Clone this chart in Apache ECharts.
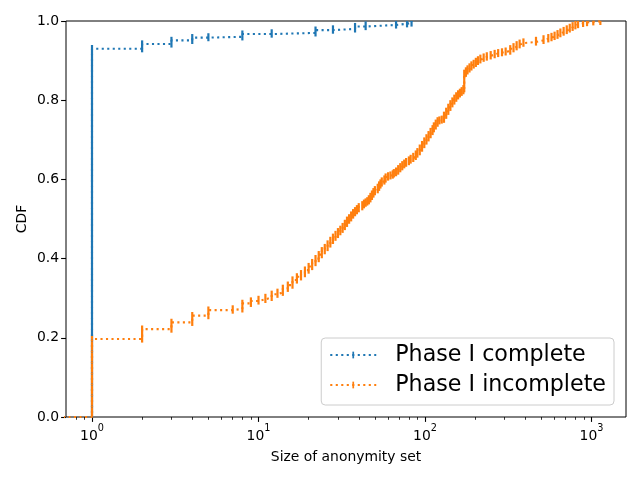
<!DOCTYPE html>
<html>
<head>
<meta charset="utf-8">
<script src="https://cdn.jsdelivr.net/npm/echarts@6/dist/echarts.min.js"></script>
<style>
  html, body { margin: 0; padding: 0; background: #fff; }
  #main { width: 640px; height: 480px; }
</style>
</head>
<body>
<div id="main"></div>
<script>
// CDF of anonymity set size
// (0.1 stands in for the size-0 start point, which falls off the left edge of the log axis)
const completeSizes = [0.1, 1, 2, 3, 4, 5, 8, 12, 22, 28, 38, 44, 67, 78, 83];
const completeCdf = [0, 0.930, 0.942, 0.951, 0.958, 0.960, 0.967, 0.970, 0.977, 0.980, 0.986, 0.990, 0.993, 0.995, 1.0];

const incompleteSizes = [0.1, 1, 2, 3, 4, 5, 7, 8, 9, 10,
  11, 12, 13, 14, 15, 16, 17, 18, 19, 20, 21, 22,
  23, 24, 25, 26, 27, 28, 29, 30, 31, 32, 33, 34, 35, 36, 37, 38, 39, 40,
  42, 43, 44, 45, 46, 47, 48, 49, 50,
  52, 53, 54, 55, 57, 58, 60, 62, 64, 65,
  67, 69, 71, 73, 75, 77, 80, 82, 85, 88,
  90, 93, 96, 99, 102, 105, 108, 111, 113, 116,
  119, 122, 126, 130, 134, 138, 142, 146, 150, 154,
  158, 162, 166, 170, 172, 176, 180, 185, 190, 196,
  202, 208, 215, 225, 235, 248, 262, 275, 290, 305,
  325, 340, 355, 370, 390, 464, 515, 550, 575, 600,
  625, 650, 680, 710, 740, 770, 800, 830, 890, 940,
  1025, 1130];
const incompleteCdf = [0, 0.197, 0.222, 0.239, 0.256, 0.270, 0.273, 0.287, 0.293, 0.297,
  0.302, 0.310, 0.315, 0.325, 0.333, 0.346, 0.354, 0.362, 0.371, 0.380, 0.390, 0.400,
  0.410, 0.420, 0.428, 0.437, 0.446, 0.454, 0.461, 0.468, 0.474, 0.481, 0.489, 0.497, 0.503, 0.510, 0.516, 0.521, 0.526, 0.531,
  0.536, 0.540, 0.543, 0.546, 0.551, 0.557, 0.563, 0.569, 0.574,
  0.580, 0.586, 0.591, 0.596, 0.601, 0.606, 0.609, 0.611, 0.614, 0.617,
  0.621, 0.627, 0.632, 0.637, 0.641, 0.645, 0.649, 0.653, 0.658, 0.664,
  0.670, 0.679, 0.688, 0.697, 0.705, 0.713, 0.721, 0.728, 0.735, 0.742,
  0.748, 0.750, 0.752, 0.762, 0.772, 0.782, 0.791, 0.798, 0.805, 0.811,
  0.816, 0.820, 0.824, 0.829, 0.868, 0.874, 0.879, 0.884, 0.889, 0.893,
  0.898, 0.902, 0.906, 0.909, 0.912, 0.915, 0.918, 0.920, 0.922, 0.924,
  0.930, 0.935, 0.940, 0.944, 0.947, 0.951, 0.955, 0.958, 0.961, 0.964,
  0.968, 0.972, 0.976, 0.980, 0.984, 0.988, 0.991, 0.994, 0.996, 0.998,
  0.999, 1.0];

const majorTicks = [1, 10, 100, 1000];
const minorTicks = [0.8, 0.9, 2, 3, 4, 5, 6, 7, 8, 9,
  20, 30, 40, 50, 60, 70, 80, 90,
  200, 300, 400, 500, 600, 700, 800, 900];

const BLUE = '#1f77b4';
const ORANGE = '#ff7f0e';
const FONT = 'DejaVu Sans';
const X_MIN = 0.698, X_MAX = 1611;
// thin vertical "|" marker, padded so the legend keeps it thin
const MARKER = 'path://M0 0M6.7 6.7M2.5 0H4.2V6.7H2.5Z';

function linePoints(sizes, cdf) {
  return sizes.map((s, i) => [s, cdf[i]]);
}

// one solid bar per distinct size: from previous cdf to this one
function stepPoints(sizes, cdf) {
  const out = [];
  for (let i = 1; i < sizes.length; i++) out.push([sizes[i], cdf[i - 1], cdf[i]]);
  return out;
}

function stepBars(color) {
  return function (params, api) {
    const x = api.value(0);
    const lo = api.coord([x, api.value(1)]);
    const hi = api.coord([x, api.value(2)]);
    const half = 3.6;
    const cs = params.coordSys;
    const shape = echarts.graphic.clipRectByRect({
      x: lo[0] - 1.1,
      y: hi[1] - half,
      width: 2.2,
      height: lo[1] - hi[1] + 2 * half
    }, { x: cs.x, y: cs.y, width: cs.width, height: cs.height });
    if (!shape) return null;
    return { type: 'rect', shape: shape, style: { fill: color } };
  };
}

function cdfLine(name, sizes, cdf, color) {
  return {
    name: name,
    type: 'line',
    step: 'end',
    data: linePoints(sizes, cdf),
    symbol: MARKER,
    symbolSize: 6.7,
    showSymbol: false,
    silent: true,
    lineStyle: { color: color, width: 2.1, type: [2.1, 3.4] },
    itemStyle: { color: color },
    z: 2
  };
}

function cdfBars(name, sizes, cdf, color) {
  return {
    name: name,
    type: 'custom',
    data: stepPoints(sizes, cdf),
    encode: { x: 0, y: [1, 2] },
    renderItem: stepBars(color),
    silent: true,
    z: 2
  };
}

const chart = echarts.init(document.getElementById('main'));
chart.setOption({
  animation: false,
  backgroundColor: '#fff',
  grid: {
    left: 66, right: 14, top: 21, bottom: 63,
    show: true, borderColor: '#000', borderWidth: 1
  },
  legend: {
    data: ['Phase I complete', 'Phase I incomplete'],
    orient: 'vertical',
    right: 26,
    bottom: 75,
    itemWidth: 46,
    itemHeight: 8.4,
    itemGap: 8,
    padding: [6, 8, 9, 8],
    selectedMode: false,
    backgroundColor: 'rgba(255,255,255,0.8)',
    borderColor: '#cccccc',
    borderWidth: 1,
    borderRadius: 4,
    textStyle: {
      fontFamily: FONT, fontSize: 22.2, color: '#000',
      lineHeight: 22, padding: [0, 0, 0, 14]
    }
  },
  xAxis: [{
    type: 'log',
    logBase: 10,
    min: X_MIN,
    max: X_MAX,
    name: 'Size of anonymity set',
    nameLocation: 'middle',
    nameGap: 33,
    nameTextStyle: { fontFamily: FONT, fontSize: 13.9, color: '#000' },
    axisLine: { show: false },
    splitLine: { show: false },
    axisTick: {
      show: true, length: 4.9, customValues: majorTicks,
      lineStyle: { color: '#000', width: 1.1 }
    },
    axisLabel: {
      customValues: majorTicks,
      margin: 6,
      formatter: v => '{base|10}{sup|' + Math.round(Math.log10(v)) + '}',
      rich: {
        base: { fontFamily: FONT, fontSize: 13.9, color: '#000', lineHeight: 20, verticalAlign: 'bottom' },
        sup: { fontFamily: FONT, fontSize: 9.7, color: '#000', lineHeight: 20, verticalAlign: 'top' }
      }
    }
  }, {
    type: 'log',
    logBase: 10,
    min: X_MIN,
    max: X_MAX,
    position: 'bottom',
    axisLine: { show: false },
    splitLine: { show: false },
    axisLabel: { show: false },
    axisTick: {
      show: true, length: 2.8, customValues: minorTicks,
      lineStyle: { color: '#000', width: 0.8 }
    }
  }],
  yAxis: {
    type: 'value',
    min: 0,
    max: 1,
    interval: 0.2,
    name: 'CDF',
    nameLocation: 'middle',
    nameGap: 37,
    nameMoveOverlap: false,
    nameTextStyle: { fontFamily: FONT, fontSize: 13.9, color: '#000' },
    axisLine: { show: false },
    splitLine: { show: false },
    axisTick: { show: true, length: 4.9, lineStyle: { color: '#000', width: 1.1 } },
    axisLabel: {
      margin: 7,
      fontFamily: FONT, fontSize: 13.9, color: '#000',
      formatter: v => v.toFixed(1)
    }
  },
  series: [
    cdfLine('Phase I complete', completeSizes, completeCdf, BLUE),
    cdfBars('complete steps', completeSizes, completeCdf, BLUE),
    cdfLine('Phase I incomplete', incompleteSizes, incompleteCdf, ORANGE),
    cdfBars('incomplete steps', incompleteSizes, incompleteCdf, ORANGE)
  ]
});
</script>
</body>
</html>
